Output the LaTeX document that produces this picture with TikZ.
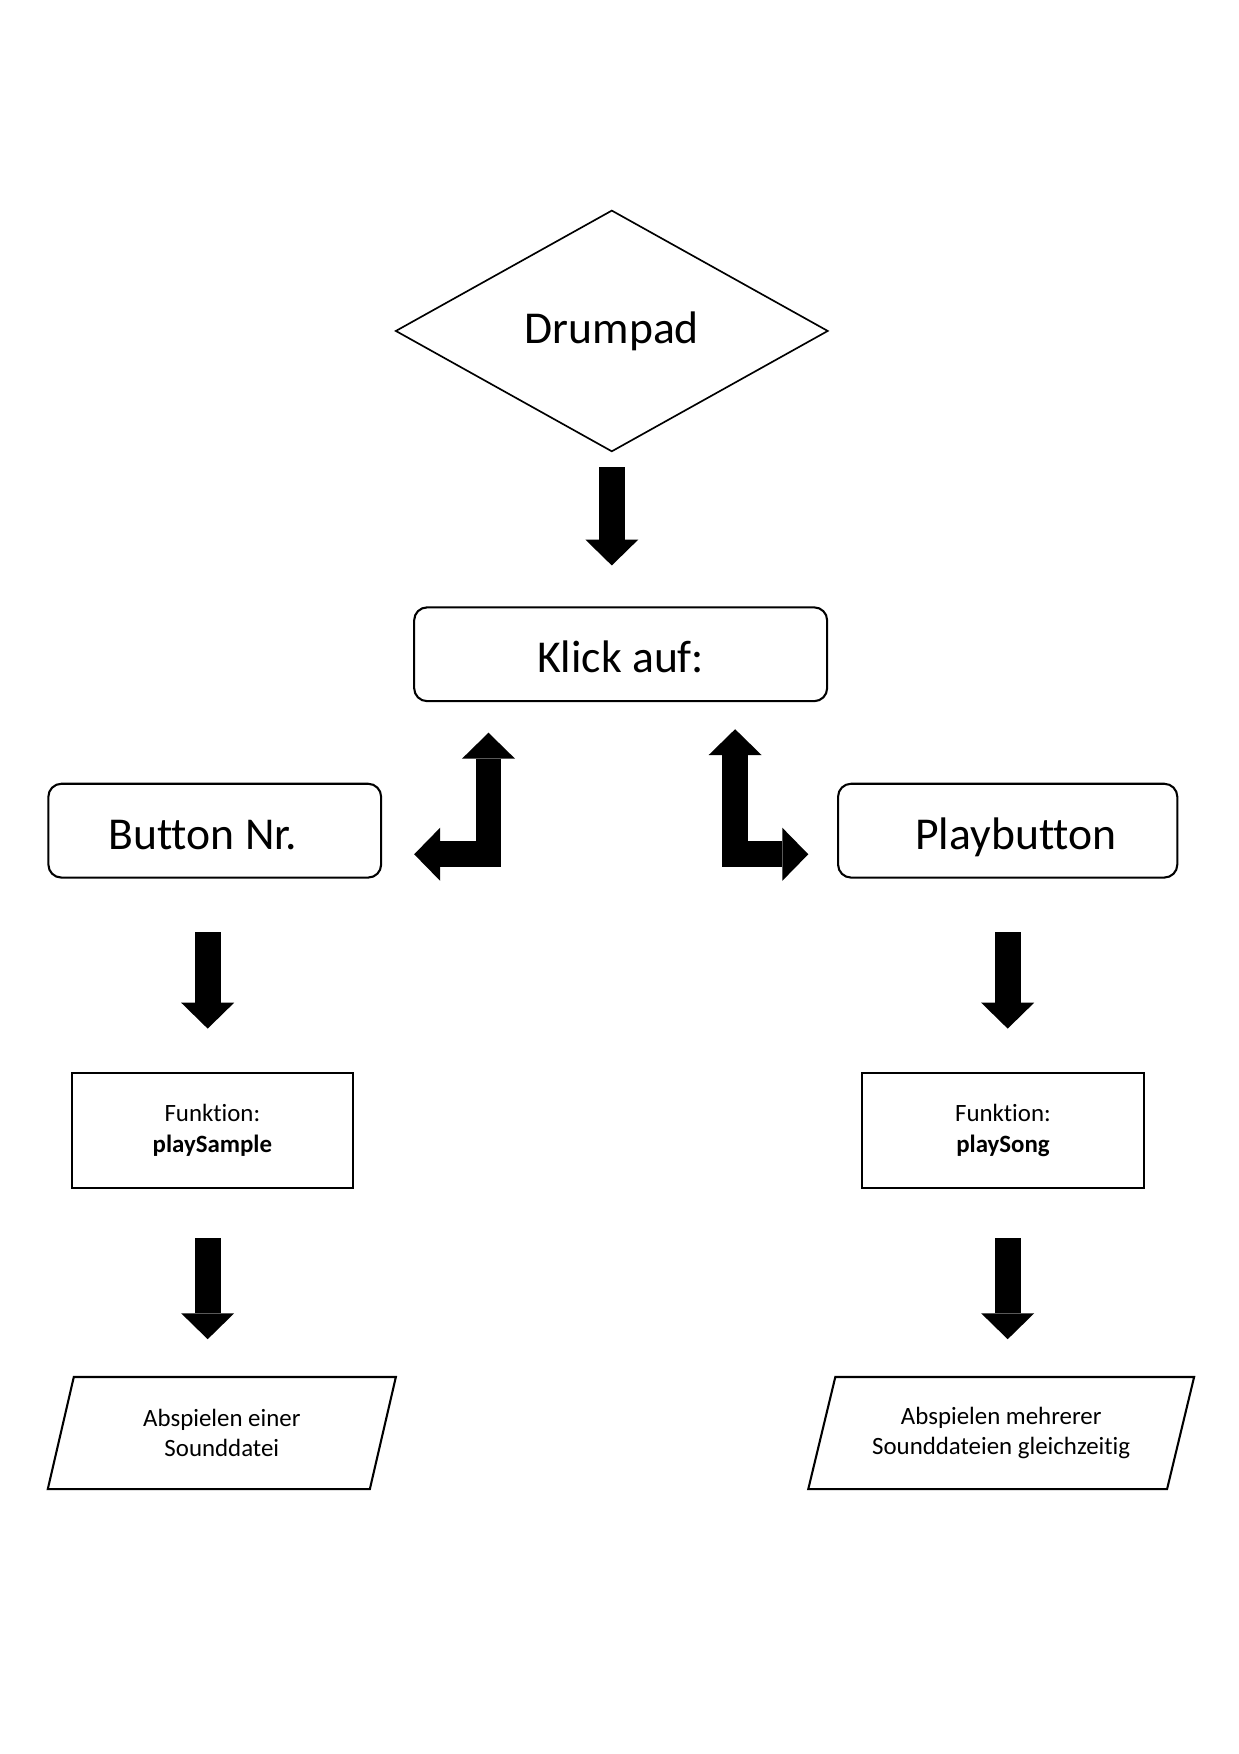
\documentclass[tikz,border=0pt]{standalone}
\usepackage{fontspec}
\setmainfont{Carlito}[Ligatures=NoCommon]
\usetikzlibrary{shapes.geometric, arrows.meta}

\tikzset{
	big/.style={font=\fontsize{22}{26}\selectfont},
	small/.style={font=\fontsize{12}{14.6}\selectfont, align=center},
	decision/.style={draw, diamond, big, line width=0.8pt, minimum width=7.32cm, minimum height=4.08cm, inner sep=0pt, outer sep=0pt},
	choice/.style={draw, big, text height=18pt, text depth=0pt, rounded corners=0.22cm, line width=1pt, minimum height=1.59cm, outer sep=0pt},
	func/.style={draw, small, line width=1pt, minimum height=1.95cm, outer sep=0pt},
	result/.style={draw, small, trapezium, trapezium left angle=76, trapezium right angle=104, trapezium stretches body, inner ysep=0.48cm, line width=1pt, minimum height=1.9cm, outer sep=0pt},
	fat/.style={line width=0.44cm, >={Triangle[length=0.44cm, width=0.9cm, line width=0pt]}}
}

\begin{document}
\begin{tikzpicture}
	\useasboundingbox (0, 0) rectangle (21, 29.73);

	\node[decision] (drumpad) at (10.37, 24.12) {Drumpad};
	\node[choice, minimum width=7cm] (klick) at (10.52, 18.64) {Klick auf:};
	\node[choice, minimum width=5.64cm] (button) at (3.64, 15.65) {Button Nr.\hspace*{0.4cm}};
	\node[choice, minimum width=5.75cm] (play) at (17.08, 15.65) {\hspace*{0.28cm}Playbutton};
	\node[func, minimum width=4.76cm] (fsample) at (3.6, 10.57) {Funktion:\\\textbf{playSample}};
	\node[func, minimum width=4.78cm] (fsong) at (17, 10.57) {Funktion:\\\textbf{playSong}};
	\node[result, minimum width=5.9cm] (osample) at (3.76, 5.44) {Abspielen einer\\Sounddatei};
	\node[result, minimum width=6.54cm] (osong) at (16.97, 5.44) {Abspielen mehrerer\\Sounddateien gleichzeitig};

	\coordinate (lup) at (8.28, 17.31);
	\coordinate (lleft) at (7.02, 15.25);
	\coordinate (rup) at (12.46, 17.37);
	\coordinate (rright) at (13.7, 15.25);

	\draw[fat, ->, shorten <=0.27cm, shorten >=0.71cm] (drumpad.south) -- (drumpad.south |- klick.north);
	\draw[fat, <->] (lup) |- (lleft);
	\draw[fat, <->] (rup) |- (rright);
	\draw[fat, ->, shorten <=0.93cm, shorten >=0.75cm] ([xshift=-0.08cm]fsample.north |- button.south) -- ([xshift=-0.08cm]fsample.north);
	\draw[fat, ->, shorten <=0.93cm, shorten >=0.75cm] (play.south) -- (play.south |- fsong.north);
	\draw[fat, ->, shorten <=0.85cm, shorten >=0.64cm] ([xshift=-0.08cm]fsample.south) -- ([xshift=-0.08cm]fsample.south |- osample.north);
	\draw[fat, ->, shorten <=0.85cm, shorten >=0.64cm] (play.south |- fsong.south) -- (play.south |- osong.north);
\end{tikzpicture}
\end{document}
